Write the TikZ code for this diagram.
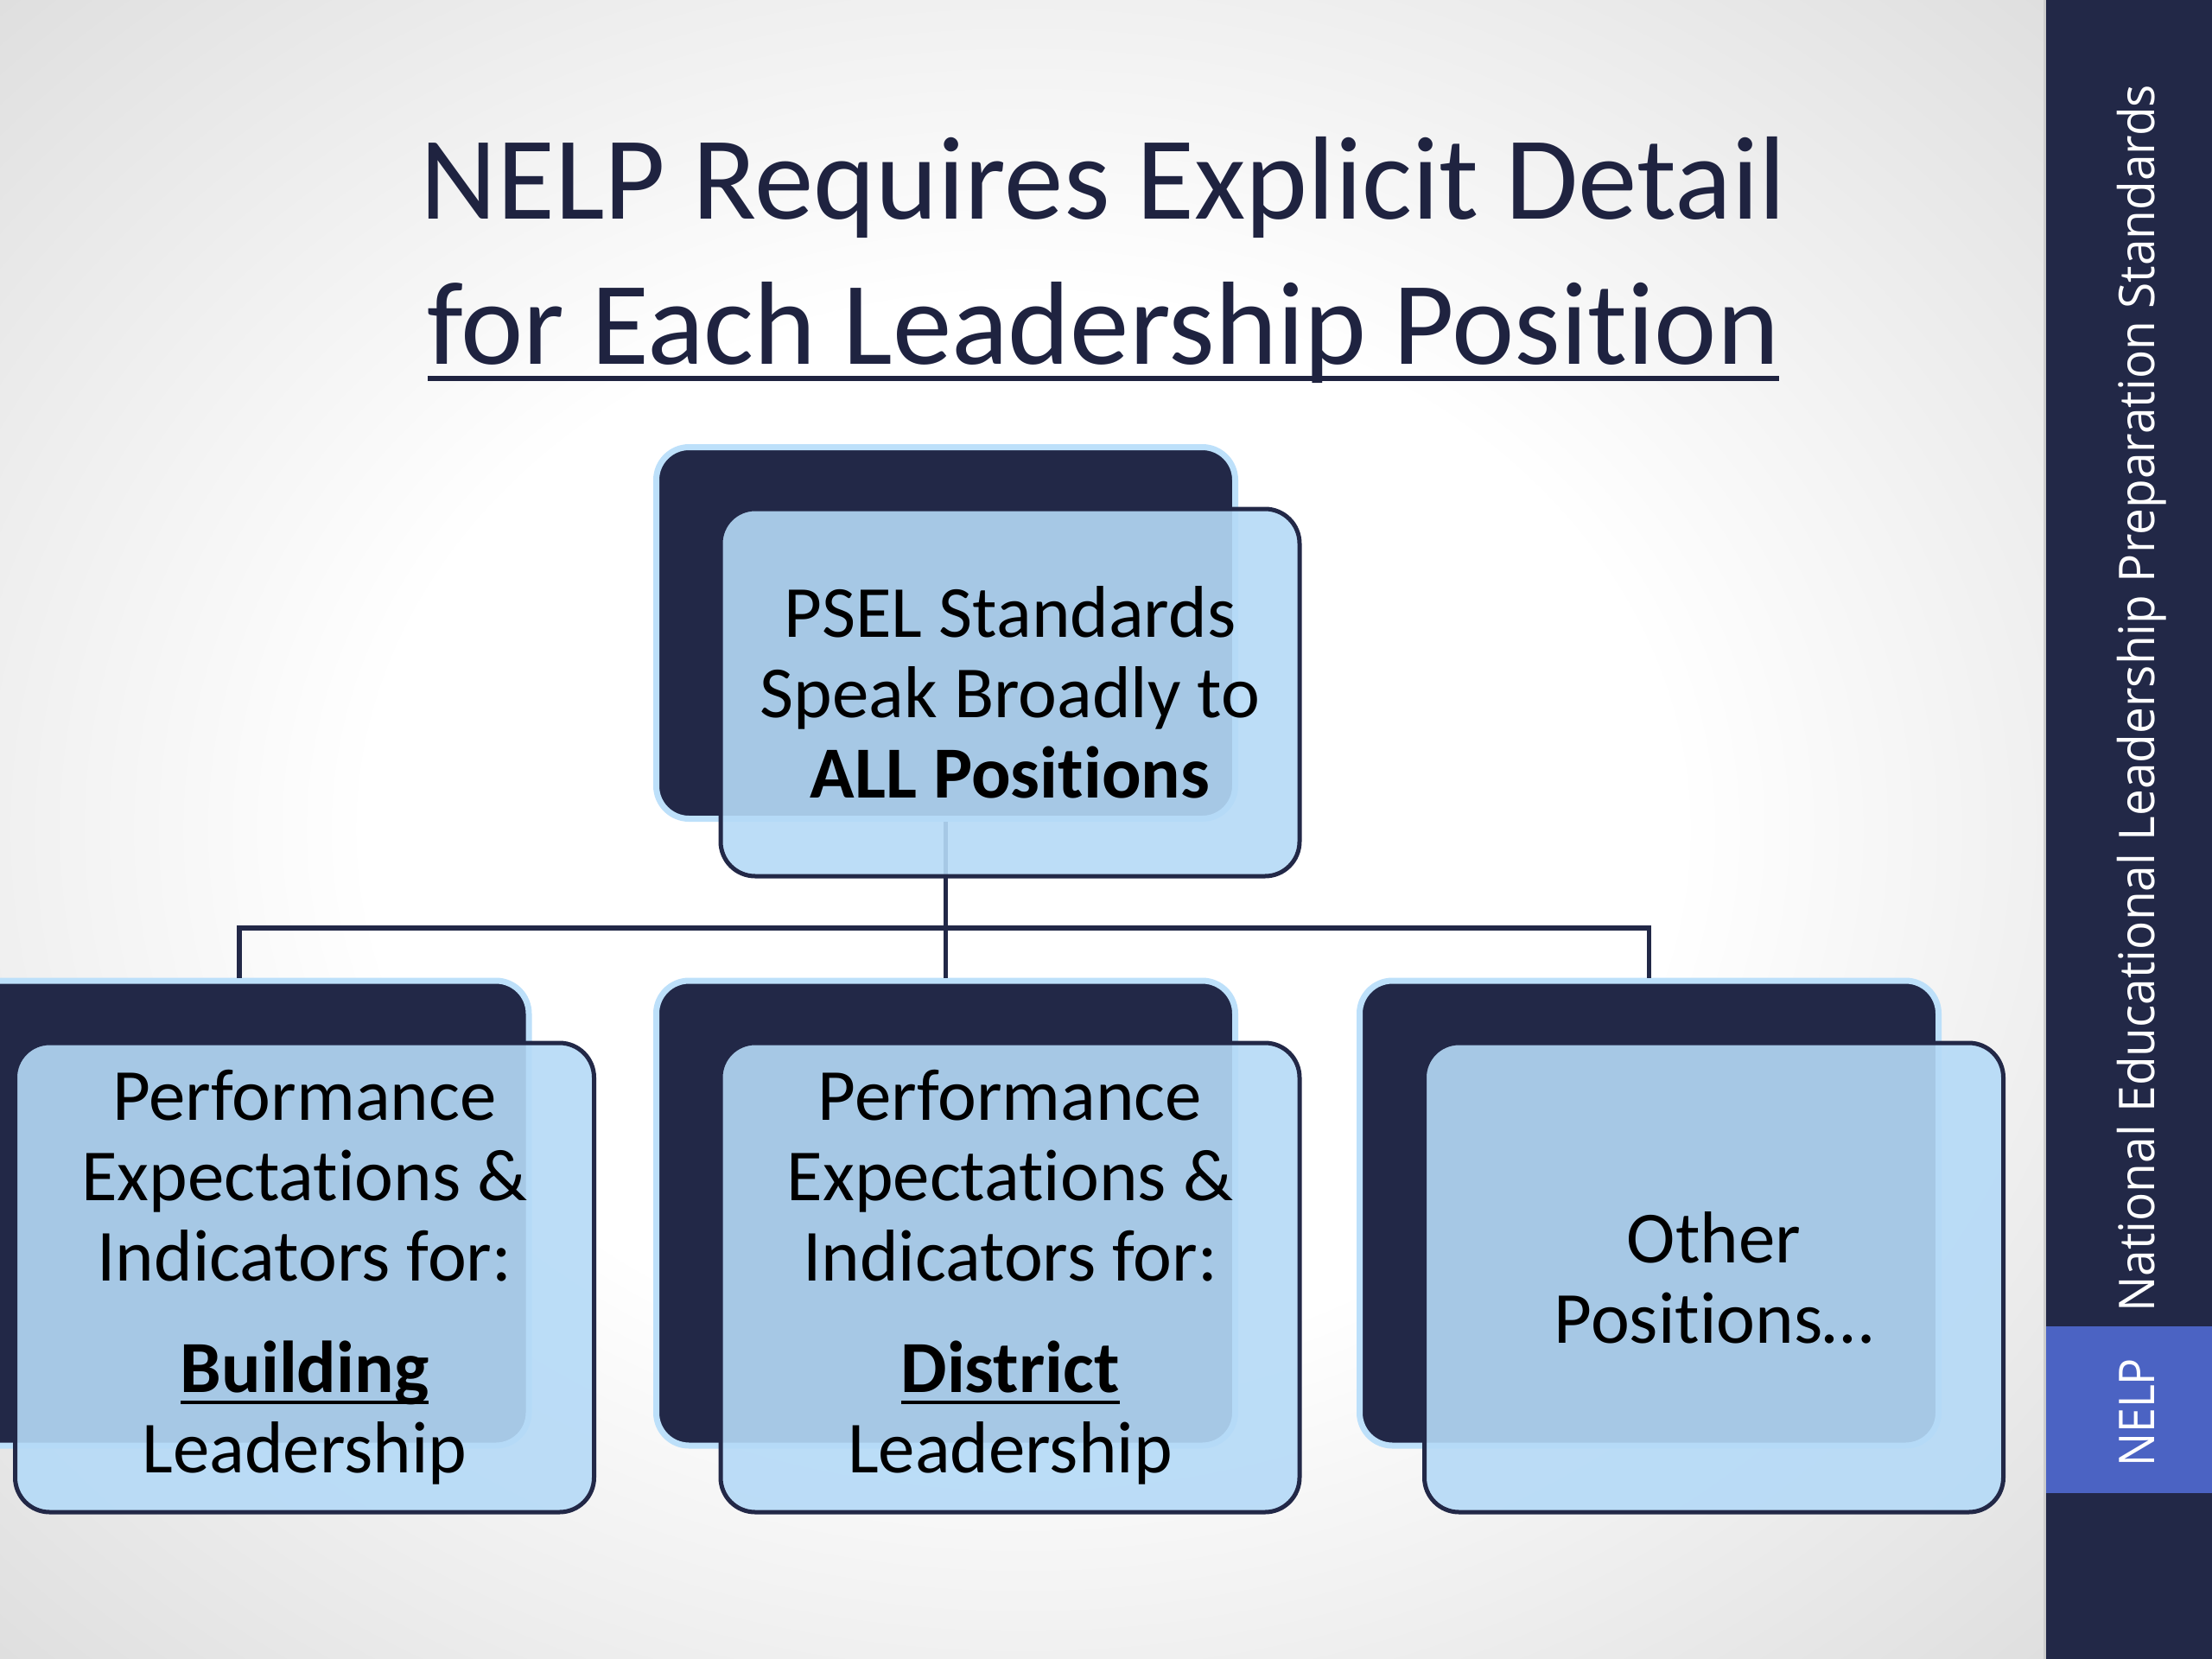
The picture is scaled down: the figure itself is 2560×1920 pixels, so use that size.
\documentclass[tikz,border=0pt]{standalone}
\usepackage{fontspec}
\setmainfont{Carlito}[Ligatures=NoCommon]
\newfontfamily\sidefont{Open Sans}
\definecolor{navy}{RGB}{34,40,71}
\definecolor{navytitle}{RGB}{31,35,64}
\definecolor{bandblue}{RGB}{75,99,195}
\definecolor{boxblue}{RGB}{181,218,247}
\definecolor{rimblue}{RGB}{189,224,250}
\pgfdeclareradialshading{vignette}{\pgfpoint{0bp}{0bp}}{color(0bp)=(white); color(16bp)=(white); color(36bp)=(black!13); color(50bp)=(black!13)}
% underline at fixed depth: #1 gap below baseline, #2 thickness, #3 text
\newcommand\ulbox[3]{\setbox0\hbox{#3}\leavevmode\rlap{\rule[\dimexpr-#1-#2\relax]{\wd0}{#2}}\box0}
\begin{document}
\begin{tikzpicture}[x=1pt,y=-1pt,
  backbox/.style={draw=rimblue, line width=7pt, fill=navy, rounded corners=38pt, minimum width=670pt, inner sep=0pt},
  frontbox/.style={draw=navy, line width=5pt, fill=boxblue, fill opacity=0.9, text opacity=1, rounded corners=40pt, minimum width=670pt, align=center, inner sep=0pt, font=\fontsize{85}{93}\selectfont, text=black},
  link/.style={draw=navy, line width=5.5pt},
  titletext/.style={font=\fontsize{137}{170}\selectfont, text=navytitle, inner sep=0pt, anchor=base},
  sidetext/.style={rotate=90, anchor=base west, inner sep=0pt, text=white, font=\fontsize{57}{60}\sidefont}
]
\useasboundingbox (0,0) rectangle (2560,1920);
\shade[shading=vignette] (0,0) rectangle (2368,1920);
% sidebar
\fill[navy] (2368,0) rectangle (2560,1920);
\fill[bandblue] (2368,1535) rectangle (2560,1728);
\draw[black!20, line width=3pt] (2366,0) -- (2366,1920);
\node[sidetext] (side) at (2493,1519) {\resizebox{1421pt}{\height}{National Educational Leadership Preparation Standards}};
\node[sidetext] (nelp) at (2493,1698) {\resizebox{126pt}{\height}{NELP}};
% title
\node[titletext] (t1) at (1277,253) {NELP Requires Explicit Detail};
\node[titletext] (t2) at (1277,421) {\ulbox{14pt}{6pt}{for Each Leadership Position}};
% back boxes
\node[backbox, minimum height=430pt] (tb) at (1094.5,732.5) {};
\node[backbox, minimum height=538pt] (lb) at (277,1404) {};
\node[backbox, minimum height=538pt] (mb) at (1094.5,1404) {};
\node[backbox, minimum height=538pt] (rb) at (1908.5,1404) {};
% connectors
\coordinate (hub) at (1094.5,1074);
\draw[link] (tb.south) -- (hub);
\draw[link] (hub) -| (lb.north);
\draw[link] (hub) -- (mb.north);
\draw[link] (hub) -| (rb.north);
% front boxes
\node[frontbox, minimum height=425pt] (tf) at (1169,801.5) {PSEL Standards\\Speak Broadly to\\\textbf{ALL Positions}};
\node[frontbox, minimum height=543pt] (lf) at (352.5,1478.5) {Performance\\Expectations \&\\Indicators for:\\[36pt]\ulbox{9pt}{4.5pt}{\textbf{Building}}\\Leadership};
\node[frontbox, minimum height=543pt] (mf) at (1169,1478.5) {Performance\\Expectations \&\\Indicators for:\\[36pt]\ulbox{9pt}{4.5pt}{\textbf{District}}\\Leadership};
\node[frontbox, minimum height=543pt] (rf) at (1983.5,1478.5) {Other\\Positions…};
\end{tikzpicture}
\end{document}
